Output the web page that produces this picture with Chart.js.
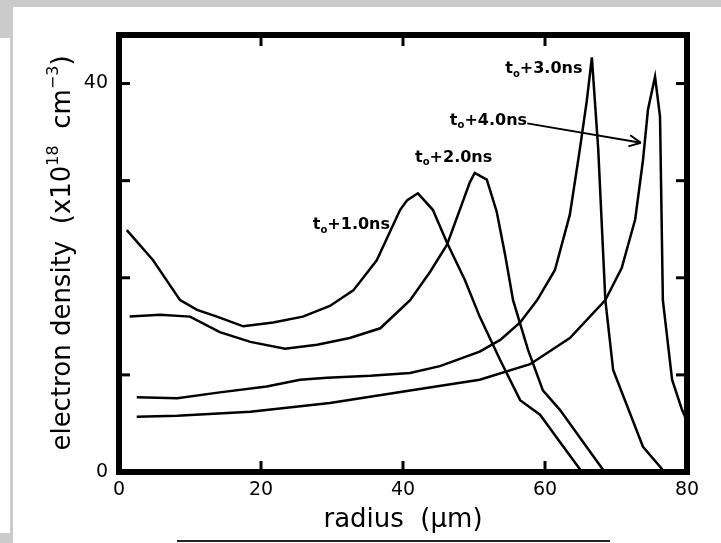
<!DOCTYPE html>
<html>
<head>
<meta charset="utf-8">
<script src="https://cdn.jsdelivr.net/npm/chart.js@4.4.1/dist/chart.umd.min.js"></script>
<style>
  html, body { margin: 0; padding: 0; background: #fff; }
  body { width: 721px; height: 543px; position: relative; overflow: hidden; }
  .scan { position: absolute; background: #cbcbcb; }
  .rule { position: absolute; left: 177px; top: 540px; width: 433px; height: 2px; background: #222; }
  #wrap { position: absolute; left: 0; top: 0; width: 721px; height: 543px; }
</style>
</head>
<body>
<div class="scan" style="left:0;top:0;width:721px;height:7px"></div>
<div class="scan" style="left:0;top:0;width:13px;height:38px"></div>
<div class="scan" style="left:10px;top:0;width:3px;height:543px"></div>
<div class="scan" style="left:0;top:533px;width:13px;height:10px"></div>
<div class="rule"></div>
<div id="wrap"><canvas id="chart"></canvas></div>
<script>
// electron density profiles, radius in um, density in 1e18 cm^-3
const radius1 = [1.1, 4.8, 8.6, 11.0, 13.8, 17.5, 21.7, 25.9, 29.7, 33.0, 36.3, 39.6, 40.6, 42.1, 44.2, 46.2, 48.7, 50.8, 53.7, 56.5, 59.3, 62.1, 65.0];
const density1 = [24.9, 21.8, 17.7, 16.7, 16.0, 15.0, 15.4, 16.0, 17.1, 18.7, 21.8, 27.0, 28.0, 28.7, 27.0, 23.6, 19.8, 16.0, 11.5, 7.4, 5.9, 3.1, 0.2];

const radius2 = [1.5, 5.8, 10.0, 14.2, 18.5, 23.4, 27.9, 32.5, 36.8, 41.0, 43.8, 46.2, 48.5, 49.4, 50.1, 51.8, 53.2, 54.4, 55.5, 57.6, 59.7, 62.1, 68.2];
const density2 = [16.0, 16.2, 16.0, 14.4, 13.4, 12.7, 13.1, 13.8, 14.8, 17.7, 20.6, 23.4, 28.0, 29.8, 30.8, 30.1, 26.8, 22.3, 17.7, 12.6, 8.4, 6.4, 0.2];

const radius3 = [2.5, 8.2, 14.2, 20.8, 25.5, 29.3, 35.4, 41.0, 45.2, 50.8, 53.7, 56.5, 58.9, 61.4, 63.5, 64.9, 65.9, 66.6, 67.5, 68.5, 69.6, 73.8, 76.6];
const density3 = [7.7, 7.6, 8.2, 8.8, 9.5, 9.7, 9.9, 10.2, 10.9, 12.4, 13.6, 15.4, 17.7, 20.8, 26.5, 33.2, 38.3, 42.7, 33.2, 17.7, 10.5, 2.6, 0.2];

const radius4 = [2.5, 8.2, 18.5, 29.7, 41.0, 50.8, 57.9, 63.5, 68.5, 70.8, 72.7, 73.8, 74.5, 75.5, 76.2, 76.6, 77.9, 79.3, 79.9];
const density4 = [5.7, 5.8, 6.2, 7.1, 8.4, 9.5, 11.1, 13.8, 17.7, 21.0, 26.0, 32.1, 37.3, 40.7, 36.6, 17.7, 9.5, 6.4, 5.4];

const curveTimes = ['1.0', '2.0', '3.0', '4.0'];
const labelRadius = [27.3, 41.7, 54.4, 46.6];
const labelDensity = [25.4, 32.4, 41.5, 36.2];
const arrowRadius = [57.5, 73.5];
const arrowDensity = [35.9, 33.9];

const xTickValues = [0, 20, 40, 60, 80];
const yTickValues = [0, 10, 20, 30, 40];
const yTickLabels = ['0', '', '', '', '40'];

const FONT = "'DejaVu Sans', sans-serif";

const toPoints = (rs, ns) => rs.map((r, i) => ({ x: r, y: ns[i] }));

const series = [
  toPoints(radius1, density1),
  toPoints(radius2, density2),
  toPoints(radius3, density3),
  toPoints(radius4, density4),
];

function line(ctx, x1, y1, x2, y2) {
  ctx.beginPath();
  ctx.moveTo(x1, y1);
  ctx.lineTo(x2, y2);
  ctx.stroke();
}

// draws a run of text pieces [text, size, rise] left to right from x,y
function drawPieces(ctx, pieces, x, y) {
  let cx = x;
  pieces.forEach(([text, size, rise]) => {
    ctx.font = `bold ${size}px ${FONT}`;
    ctx.fillText(text, cx, y + rise);
    cx += ctx.measureText(text).width;
  });
}

const framePlugin = {
  id: 'frame',
  afterDatasetsDraw(chart) {
    const { ctx, chartArea: a, scales: { x, y } } = chart;
    ctx.save();
    ctx.strokeStyle = '#000';
    ctx.fillStyle = '#000';
    ctx.lineCap = 'butt';

    // inward ticks on all four sides
    ctx.lineWidth = 3;
    xTickValues.slice(1, -1).forEach((v) => {
      const px = x.getPixelForValue(v);
      line(ctx, px, a.bottom, px, a.bottom - 11);
      line(ctx, px, a.top, px, a.top + 11);
    });
    yTickValues.slice(1).forEach((v) => {
      const py = y.getPixelForValue(v);
      line(ctx, a.left, py, a.left + 11, py);
      line(ctx, a.right, py, a.right - 11, py);
    });

    ctx.lineWidth = 6;
    ctx.strokeRect(a.left, a.top, a.right - a.left, a.bottom - a.top);

    // curve labels t_o + n ns
    ctx.textBaseline = 'middle';
    ctx.textAlign = 'left';
    curveTimes.forEach((t, i) => {
      const px = x.getPixelForValue(labelRadius[i]);
      const py = y.getPixelForValue(labelDensity[i]);
      drawPieces(ctx, [['t', 16, 0], ['o', 10, 5], [`+${t}ns`, 16, 0]], px, py);
    });

    // arrow to the t_o+4.0ns peak
    const ax1 = x.getPixelForValue(arrowRadius[0]);
    const ay1 = y.getPixelForValue(arrowDensity[0]);
    const ax2 = x.getPixelForValue(arrowRadius[1]);
    const ay2 = y.getPixelForValue(arrowDensity[1]);
    ctx.lineWidth = 2;
    line(ctx, ax1, ay1, ax2, ay2);
    const ang = Math.atan2(ay2 - ay1, ax2 - ax1);
    [0.45, -0.45].forEach((d) => {
      line(ctx, ax2, ay2, ax2 - 13 * Math.cos(ang + d), ay2 - 13 * Math.sin(ang + d));
    });

    // y axis title with superscripts
    ctx.save();
    ctx.translate(70, 253);
    ctx.rotate(-Math.PI / 2);
    ctx.textBaseline = 'alphabetic';
    const pieces = [['electron density  (x10', 26, 0], ['18', 16, -12], ['  cm', 26, 0], ['\u22123', 16, -12], [')', 26, 0]];
    let total = 0;
    pieces.forEach(([text, size]) => {
      ctx.font = `${size}px ${FONT}`;
      total += ctx.measureText(text).width;
    });
    let cx = -total / 2;
    pieces.forEach(([text, size, rise]) => {
      ctx.font = `${size}px ${FONT}`;
      ctx.fillText(text, cx, rise);
      cx += ctx.measureText(text).width;
    });
    ctx.restore();

    ctx.restore();
  },
};

const ctx = document.getElementById('chart').getContext('2d');
new Chart(ctx, {
  type: 'line',
  data: {
    datasets: series.map((data, i) => ({
      label: `t0+${curveTimes[i]}ns`,
      data,
      borderColor: '#000',
      borderWidth: 2.5,
      pointRadius: 0,
      tension: 0,
      fill: false,
    })),
  },
  options: {
    responsive: true,
    maintainAspectRatio: false,
    animation: false,
    layout: { padding: { top: 35, right: 34, left: 0, bottom: 0 } },
    plugins: { legend: { display: false }, tooltip: { enabled: false } },
    scales: {
      x: {
        type: 'linear',
        min: 0,
        max: 80,
        afterFit: (scale) => { scale.height = 71; },
        afterBuildTicks: (scale) => { scale.ticks = xTickValues.map((v) => ({ value: v })); },
        grid: { display: false, drawTicks: false },
        border: { display: false },
        ticks: { color: '#000', padding: 7, maxRotation: 0, font: { family: FONT, size: 19 } },
        title: {
          display: true,
          text: 'radius  (\u03bcm)',
          color: '#000',
          padding: { top: 0, bottom: 7 },
          font: { family: FONT, size: 26 },
        },
      },
      y: {
        type: 'linear',
        min: 0,
        max: 45,
        afterFit: (scale) => { scale.width = 119; },
        afterBuildTicks: (scale) => { scale.ticks = yTickValues.map((v) => ({ value: v })); },
        grid: { display: false, drawTicks: false },
        border: { display: false },
        ticks: {
          color: '#000',
          padding: 11,
          font: { family: FONT, size: 19 },
          callback: (v) => yTickLabels[yTickValues.indexOf(v)],
        },
      },
    },
  },
  plugins: [framePlugin],
});
</script>
</body>
</html>
